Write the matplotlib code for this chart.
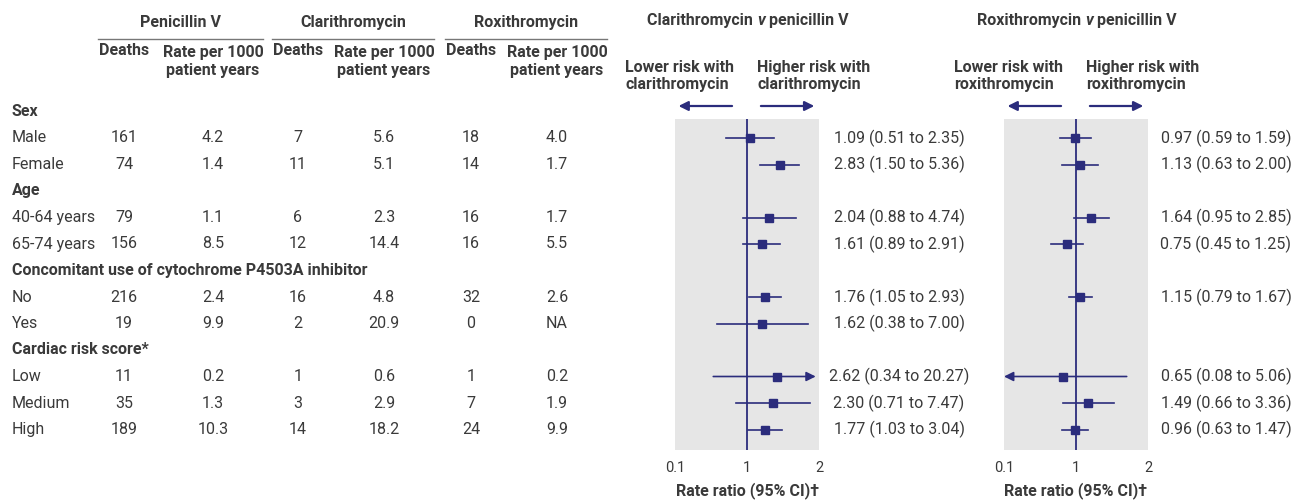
import numpy as np
import matplotlib.pyplot as plt

plt.rcParams['font.family'] = ['Roboto', 'DejaVu Sans']

# row labels (group headers are bold)
labels = ['Sex', 'Male', 'Female', 'Age', '40-64 years', '65-74 years',
          'Concomitant use of cytochrome P4503A inhibitor', 'No', 'Yes',
          'Cardiac risk score*', 'Low', 'Medium', 'High']
is_group = [True, False, False, True, False, False,
            True, False, False, True, False, False, False]

pen_deaths = ['161', '74', '79', '156', '216', '19', '11', '35', '189']
pen_rate = ['4.2', '1.4', '1.1', '8.5', '2.4', '9.9', '0.2', '1.3', '10.3']
cla_deaths = ['7', '11', '6', '12', '16', '2', '1', '3', '14']
cla_rate = ['5.6', '5.1', '2.3', '14.4', '4.8', '20.9', '0.6', '2.9', '18.2']
rox_deaths = ['18', '14', '16', '16', '32', '0', '1', '7', '24']
rox_rate = ['4.0', '1.7', '1.7', '5.5', '2.6', 'NA', '0.2', '1.9', '9.9']

cla_rr = [1.09, 2.83, 2.04, 1.61, 1.76, 1.62, 2.62, 2.30, 1.77]
cla_lo = [0.51, 1.50, 0.88, 0.89, 1.05, 0.38, 0.34, 0.71, 1.03]
cla_hi = [2.35, 5.36, 4.74, 2.91, 2.93, 7.00, 20.27, 7.47, 3.04]
rox_rr = [0.97, 1.13, 1.64, 0.75, 1.15, None, 0.65, 1.49, 0.96]
rox_lo = [0.59, 0.63, 0.95, 0.45, 0.79, None, 0.08, 0.66, 0.63]
rox_hi = [1.59, 2.00, 2.85, 1.25, 1.67, None, 5.06, 3.36, 1.47]

tick_vals = [0.1, 1, 10]
tick_labels = ['0.1', '1', '2']

NAVY = '#2b2c7c'
TXT = '#3a3a3a'
GREY = '#e6e6e6'
FS = 11.5

W, H = 1295, 503
fig = plt.figure(figsize=(W / 100, H / 100), dpi=100)

# background axes in pixel units (y down) for the table
bg = fig.add_axes([0, 0, 1, 1])
bg.set_xlim(0, W)
bg.set_ylim(H, 0)
bg.axis('off')

row_y = 111.5 + 26.5 * np.arange(len(labels))
data_rows = [y for y, g in zip(row_y, is_group) if not g]

for lab, g, y in zip(labels, is_group, row_y):
    bg.text(12, y, lab, ha='left', va='center', fontsize=FS, color=TXT,
            fontweight='bold' if g else 'normal')

# column headers
groups = ['Penicillin V', 'Clarithromycin', 'Roxithromycin']
death_x = [124, 298, 471]
rate_x = [213, 384, 557]
for name, dx, rx, cols in zip(groups, death_x, rate_x,
                              [(pen_deaths, pen_rate), (cla_deaths, cla_rate),
                               (rox_deaths, rox_rate)]):
    bg.text((dx + rx) / 2 + 12, 22, name, ha='center', va='center',
            fontsize=FS, fontweight='bold', color=TXT)
    bg.plot([dx - 26, rx + 50], [39, 39], color='#777777', lw=1)
    bg.text(dx, 50, 'Deaths', ha='center', va='center', fontsize=FS,
            fontweight='bold', color=TXT)
    bg.text(rx, 61, 'Rate per 1000\npatient years', ha='center',
            va='center', fontsize=FS, fontweight='bold', color=TXT,
            linespacing=1.25)
    for y, d, r in zip(data_rows, cols[0], cols[1]):
        bg.text(dx, y, d, ha='center', va='center', fontsize=FS, color=TXT)
        bg.text(rx, y, r, ha='center', va='center', fontsize=FS, color=TXT)


def forest(left, drug, rr, lo, hi, est_x, title_x, lower_x, higher_x):
    ax = fig.add_axes([left / W, (H - 450) / H, 144 / W, (450 - 119) / H])
    ax.set_xscale('log')
    ax.set_xlim(0.1, 10)
    ax.set_ylim(450, 119)
    ax.set_facecolor(GREY)
    for s in ax.spines.values():
        s.set_visible(False)
    ax.set_yticks([])
    ax.set_xticks(tick_vals)
    ax.set_xticklabels(tick_labels)
    ax.minorticks_off()
    ax.tick_params(axis='x', length=0, pad=8, labelsize=FS - 1,
                   labelcolor=TXT)
    ax.set_xlabel('Rate ratio (95% CI)\u2020', fontsize=FS, fontweight='bold',
                  color=TXT, labelpad=5)
    ax.axvline(1, color=NAVY, lw=1.3)

    for y, r, l, h in zip(data_rows, rr, lo, hi):
        if r is None:
            continue
        if h > 10:
            ax.annotate('', xy=(9.0, y), xytext=(l, y),
                        arrowprops=dict(arrowstyle='-|>', color=NAVY, lw=1.2,
                                        mutation_scale=14, shrinkA=0,
                                        shrinkB=0))
        elif l < 0.1:
            ax.annotate('', xy=(0.1, y), xytext=(h, y),
                        arrowprops=dict(arrowstyle='-|>', color=NAVY, lw=1.2,
                                        mutation_scale=14, shrinkA=0,
                                        shrinkB=0))
        else:
            ax.plot([l, h], [y, y], color=NAVY, lw=1.2)
        ax.plot(r, y, 's', color=NAVY, ms=6)
        bg.text(est_x, y, f'{r:.2f} ({l:.2f} to {h:.2f})', ha='center',
                va='center', fontsize=FS, color=TXT)

    # direction arrows above the panel
    for x0, x1 in [(0.62, 0.112), (1.56, 8.6)]:
        ax.annotate('', xy=(x1, 106), xytext=(x0, 106), annotation_clip=False,
                    arrowprops=dict(arrowstyle='-|>', color=NAVY, lw=1.6,
                                    mutation_scale=14, shrinkA=0, shrinkB=0))

    bg.text(lower_x, 76, 'Lower risk with\n' + drug, ha='left', va='center',
            fontsize=FS, fontweight='bold', color=TXT, linespacing=1.2)
    bg.text(higher_x, 76, 'Higher risk with\n' + drug, ha='left',
            va='center', fontsize=FS, fontweight='bold', color=TXT,
            linespacing=1.2)

    t1 = bg.text(title_x, 20, drug.capitalize() + ' ', ha='left',
                 va='center', fontsize=FS, fontweight='bold', color=TXT)
    t2 = bg.annotate('v', xy=(1, 0), xycoords=t1, ha='left', va='bottom',
                     fontsize=FS, fontweight='bold', style='italic', color=TXT)
    bg.annotate(' penicillin V', xy=(1, 0), xycoords=t2, ha='left',
                va='bottom', fontsize=FS, fontweight='bold', color=TXT)
    return ax


forest(675, 'clarithromycin', cla_rr, cla_lo, cla_hi, 899, 647, 625, 757)
forest(1004, 'roxithromycin', rox_rr, rox_lo, rox_hi, 1226, 977, 954, 1086)

fig.savefig('out.png', dpi=100)
